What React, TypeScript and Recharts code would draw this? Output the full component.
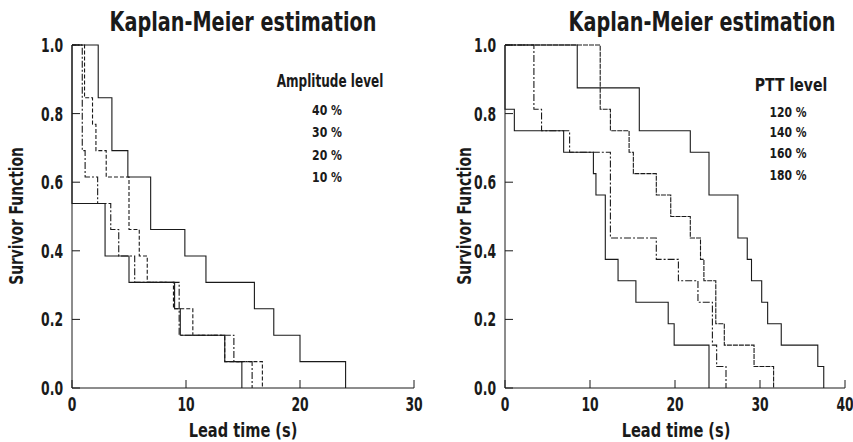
import { Line, LineChart, XAxis, YAxis } from 'recharts';

const FONT = "'DejaVu Sans', 'Liberation Sans', sans-serif";
const INK = '#1a1a1a';

// left panel: amplitude level (13 subjects per curve)
const ampLabels = ['40 %', '30 %', '20 %', '10 %'];
const amp40Time = [0, 0, 2.9, 5.0, 9.0, 9.5, 13.4, 14.9];
const amp40Surv = [1, 0.538, 0.385, 0.308, 0.231, 0.154, 0.077, 0];
const amp30Time = [0, 0.9, 1.15, 2.25, 3.4, 4.1, 5.5, 9.4, 14.2, 15.8];
const amp30Surv = [1, 0.692, 0.615, 0.538, 0.462, 0.385, 0.308, 0.154, 0.077, 0];
const amp20Time = [0, 1.1, 1.8, 2.1, 3.0, 5.0, 5.9, 6.6, 8.9, 10.6, 13.4, 16.7];
const amp20Surv = [1, 0.846, 0.769, 0.692, 0.615, 0.462, 0.385, 0.308, 0.231, 0.154, 0.077, 0];
const amp10Time = [0, 2.3, 3.5, 4.9, 6.9, 9.9, 11.75, 16, 17.7, 20, 24];
const amp10Surv = [1, 0.846, 0.692, 0.615, 0.462, 0.385, 0.308, 0.231, 0.154, 0.077, 0];

// right panel: PTT level (16 subjects per curve)
const pttLabels = ['120 %', '140 %', '160 %', '180 %'];
const ptt120Time = [0, 0, 1.1, 6.9, 10.4, 10.7, 11.8, 13.3, 15.4, 19.2, 19.9, 24];
const ptt120Surv = [1, 0.8125, 0.75, 0.6875, 0.625, 0.5625, 0.375, 0.3125, 0.25, 0.1875, 0.125, 0];
const ptt140Time = [0, 3.4, 4.3, 7.6, 12.4, 17.8, 20.4, 22.7, 24.4, 24.9, 26];
const ptt140Surv = [1, 0.8125, 0.75, 0.6875, 0.4375, 0.375, 0.3125, 0.25, 0.125, 0.0625, 0];
const ptt160Time = [0, 11.2, 12.4, 14.6, 15.1, 17.8, 19.5, 21.8, 23, 23.4, 24.8, 25.8, 29.3, 31.6];
const ptt160Surv = [1, 0.8125, 0.75, 0.6875, 0.625, 0.5625, 0.5, 0.4375, 0.375, 0.3125, 0.1875, 0.125, 0.0625, 0];
const ptt180Time = [0, 8.5, 15.8, 21.8, 24, 27.4, 28.5, 29, 30.2, 30.9, 32.5, 36.8, 37.5];
const ptt180Surv = [1, 0.875, 0.75, 0.6875, 0.5625, 0.4375, 0.375, 0.3125, 0.25, 0.1875, 0.125, 0.0625, 0];

const yTicks = [0, 0.2, 0.4, 0.6, 0.8, 1.0];

const toPoints = (t: number[], s: number[]) => t.map((x, i) => ({ t: x, s: s[i] }));

type Curve = { name: string; data: { t: number; s: number }[]; dash?: string };

const ampCurves: Curve[] = [
  { name: ampLabels[0], data: toPoints(amp40Time, amp40Surv) },
  { name: ampLabels[1], data: toPoints(amp30Time, amp30Surv), dash: '7 2 2 2' },
  { name: ampLabels[2], data: toPoints(amp20Time, amp20Surv), dash: '4 2' },
  { name: ampLabels[3], data: toPoints(amp10Time, amp10Surv) },
];

const pttCurves: Curve[] = [
  { name: pttLabels[0], data: toPoints(ptt120Time, ptt120Surv) },
  { name: pttLabels[1], data: toPoints(ptt140Time, ptt140Surv), dash: '7 2 2 2' },
  { name: pttLabels[2], data: toPoints(ptt160Time, ptt160Surv), dash: '5 1' },
  { name: pttLabels[3], data: toPoints(ptt180Time, ptt180Surv) },
];

// condensed bold text: the scan uses a narrow heavy face, so squeeze DejaVu Bold
type CTextProps = {
  x: number;
  y: number;
  size: number;
  sx: number;
  anchor?: 'start' | 'middle' | 'end';
  rotate?: number;
  children: React.ReactNode;
};

const CText = ({ x, y, size, sx, anchor = 'middle', rotate = 0, children }: CTextProps) => (
  <text
    transform={`translate(${x},${y}) rotate(${rotate}) scale(${sx},1)`}
    textAnchor={anchor}
    fontSize={size}
    fontFamily={FONT}
    fontWeight={700}
    fill={INK}
  >
    {children}
  </text>
);

const XTick = (p: any) => (
  <CText x={p.x} y={p.y + 15} size={20} sx={0.62}>
    {p.payload.value}
  </CText>
);

const YTick = (p: any) => (
  <CText x={p.x} y={p.y + 7} size={20} sx={0.62} anchor="end">
    {Number(p.payload.value).toFixed(1)}
  </CText>
);

type PanelProps = {
  curves: Curve[];
  xMax: number;
  xTicks: number[];
  width: number;
  right: number;
};

const Panel = ({ curves, xMax, xTicks, width, right }: PanelProps) => (
  <LineChart width={width} height={442} margin={{ top: 45, right, bottom: 24, left: 0 }}>
    <XAxis
      dataKey="t"
      type="number"
      domain={[0, xMax]}
      ticks={xTicks}
      allowDuplicatedCategory={false}
      height={30}
      stroke={INK}
      tickSize={-8}
      tickMargin={16}
      tick={(p: any) => <XTick {...p} />}
    />
    <XAxis
      xAxisId="top"
      orientation="top"
      dataKey="t"
      type="number"
      domain={[0, xMax]}
      ticks={xTicks}
      height={0}
      stroke={INK}
      tickSize={-8}
      tick={false}
    />
    <YAxis
      type="number"
      domain={[0, 1]}
      ticks={yTicks}
      width={72}
      stroke={INK}
      tickSize={-8}
      tickMargin={17}
      tick={(p: any) => <YTick {...p} />}
    />
    <YAxis
      yAxisId="r"
      orientation="right"
      type="number"
      domain={[0, 1]}
      ticks={yTicks}
      width={0}
      stroke={INK}
      tickSize={-8}
      tick={false}
    />
    {curves.map((c) => (
      <Line
        key={c.name}
        name={c.name}
        data={c.data}
        dataKey="s"
        type="stepAfter"
        stroke={INK}
        strokeWidth={1.1}
        strokeDasharray={c.dash}
        dot={false}
        isAnimationActive={false}
      />
    ))}
  </LineChart>
);

export default function App() {
  return (
    <div style={{ position: 'absolute', left: 0, top: 0, width: 853, height: 442, background: '#fff' }}>
      <div style={{ position: 'absolute', left: 0, top: 0 }}>
        <Panel curves={ampCurves} xMax={30} xTicks={[0, 10, 20, 30]} width={430} right={16} />
      </div>
      <div style={{ position: 'absolute', left: 433, top: 0 }}>
        <Panel curves={pttCurves} xMax={40} xTicks={[0, 10, 20, 30, 40]} width={420} right={8} />
      </div>
      <svg
        width={853}
        height={442}
        style={{ position: 'absolute', left: 0, top: 0, pointerEvents: 'none' }}
      >
        <CText x={243} y={31} size={26} sx={0.74}>Kaplan-Meier estimation</CText>
        <CText x={702} y={31} size={26} sx={0.74}>Kaplan-Meier estimation</CText>
        <CText x={23} y={216} size={20} sx={0.69} rotate={-90}>Survivor Function</CText>
        <CText x={471} y={216} size={20} sx={0.69} rotate={-90}>Survivor Function</CText>
        <CText x={243} y={437} size={20} sx={0.73}>Lead time (s)</CText>
        <CText x={676} y={437} size={20} sx={0.73}>Lead time (s)</CText>
        <CText x={330} y={87} size={17} sx={0.71}>Amplitude level</CText>
        {ampLabels.map((l, i) => (
          <CText key={l} x={327} y={[115, 137, 160, 182][i]} size={14} sx={0.78}>
            {l}
          </CText>
        ))}
        <CText x={791} y={91} size={18} sx={0.78}>PTT level</CText>
        {pttLabels.map((l, i) => (
          <CText key={l} x={788} y={[117, 137, 158, 180][i]} size={14} sx={0.77}>
            {l}
          </CText>
        ))}
      </svg>
    </div>
  );
}
